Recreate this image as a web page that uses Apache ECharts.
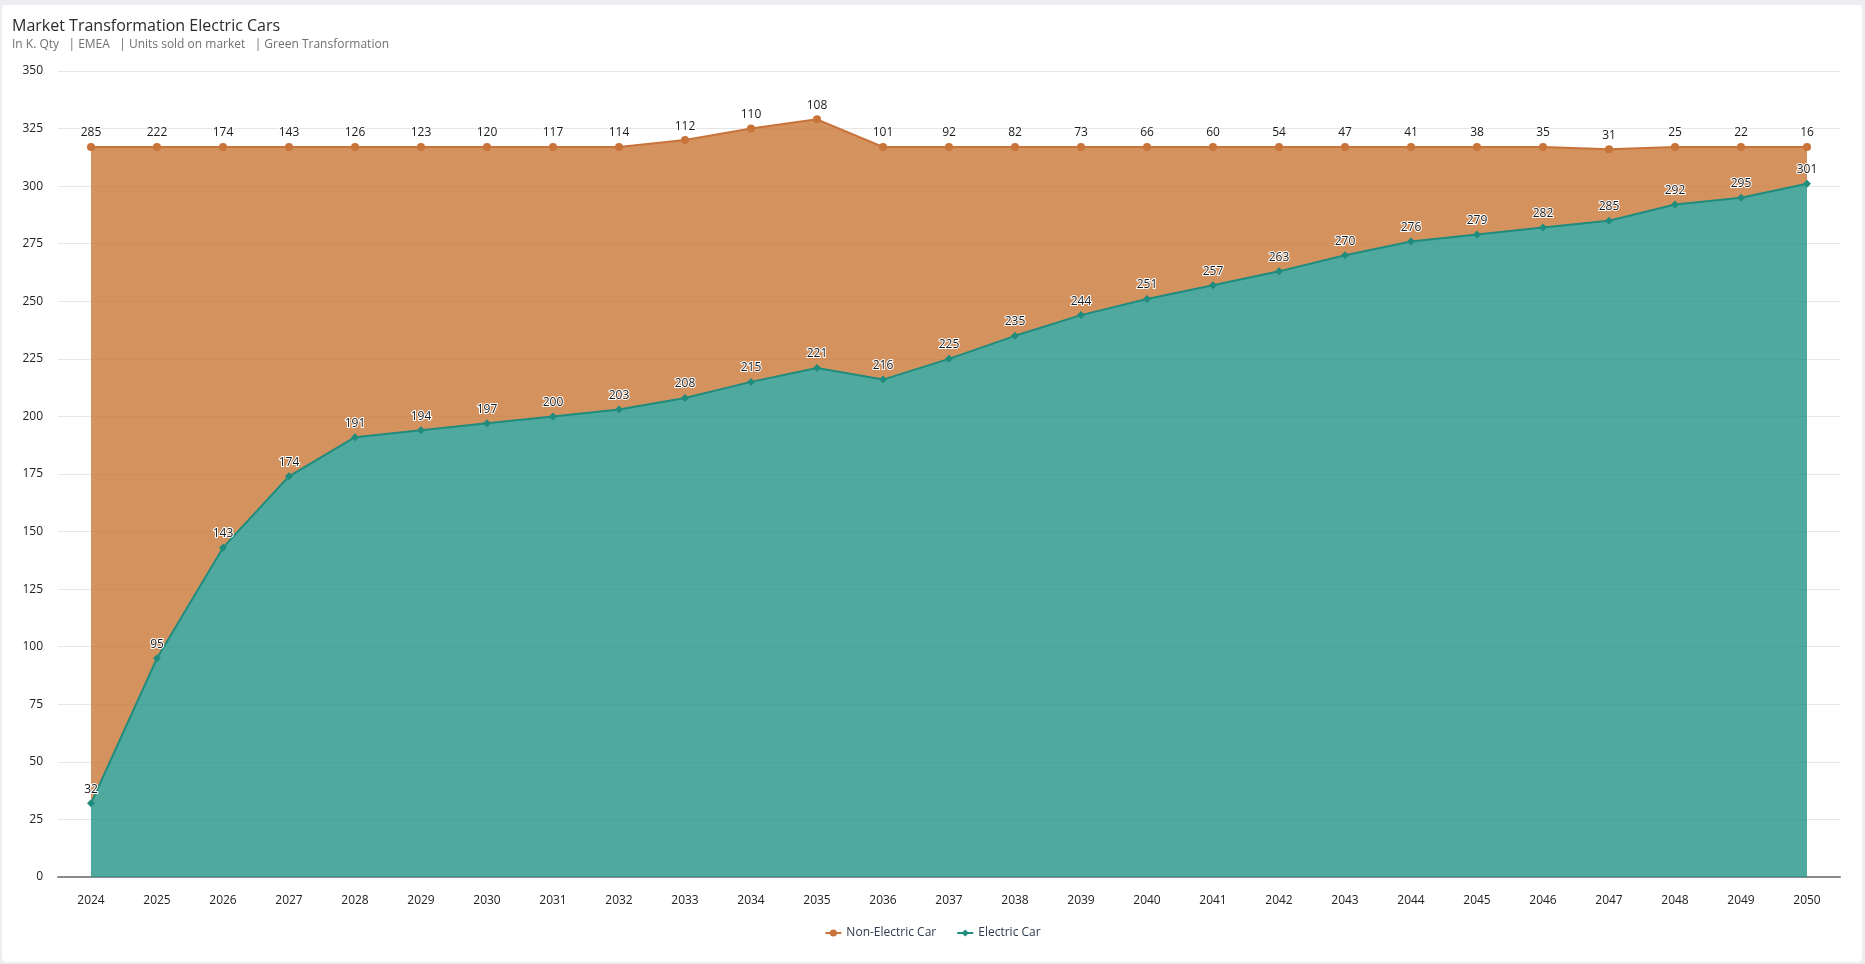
<!DOCTYPE html>
<html>
<head>
<meta charset="utf-8">
<title>Market Transformation Electric Cars</title>
<script src="https://cdn.jsdelivr.net/npm/echarts@6/dist/echarts.min.js"></script>
<style>
    html, body { margin: 0; padding: 0; width: 100%; height: 100%; background: #eceef1; overflow: hidden; }
    .card { position: absolute; left: 2px; top: 5px; right: 3px; bottom: 2px; background: #fff; border-radius: 4px; }
    #main { position: absolute; left: 0; top: 0; width: 1865px; height: 964px; }
</style>
</head>
<body>
<div class="card"></div>
<div id="main"></div>
<script>
var years = ['2024', '2025', '2026', '2027', '2028', '2029', '2030', '2031', '2032', '2033',
    '2034', '2035', '2036', '2037', '2038', '2039', '2040', '2041', '2042', '2043',
    '2044', '2045', '2046', '2047', '2048', '2049', '2050'];
var electric = [32, 95, 143, 174, 191, 194, 197, 200, 203, 208,
    215, 221, 216, 225, 235, 244, 251, 257, 263, 270,
    276, 279, 282, 285, 292, 295, 301];
var nonElectric = [285, 222, 174, 143, 126, 123, 120, 117, 114, 112,
    110, 108, 101, 92, 82, 73, 66, 60, 54, 47,
    41, 38, 35, 31, 25, 22, 16];

(function () {
    var font = '"Open Sans", "Noto Sans", sans-serif';
    var chart = echarts.init(document.getElementById('main'));

    // label style shared by both series
    var label = {
        show: true,
        position: 'top',
        distance: 4,
        color: '#1a1a1a',
        fontSize: 12,
        fontFamily: font,
        textBorderColor: '#fff',
        textBorderWidth: 2
    };

    chart.setOption({
        textStyle: { fontFamily: font },
        title: {
            text: 'Market Transformation Electric Cars',
            subtext: 'In K. Qty   | EMEA   | Units sold on market   | Green Transformation',
            left: 7,
            top: 13,
            itemGap: 5,
            textStyle: { fontSize: 16, fontWeight: 'normal', color: '#2b2b2b', fontFamily: font },
            subtextStyle: { fontSize: 12, color: '#707070', fontFamily: font }
        },
        legend: {
            data: ['Non-Electric Car', 'Electric Car'],
            top: 922,
            left: 'center',
            itemGap: 20,
            itemWidth: 16,
            itemHeight: 9,
            textStyle: { fontSize: 12, color: '#2d3a4a', fontFamily: font }
        },
        grid: { left: 58, right: 25, top: 71, bottom: 87, containLabel: false },
        xAxis: {
            type: 'category',
            data: years,
            axisLine: { lineStyle: { color: '#8a8a8a', width: 2 } },
            axisTick: { show: false },
            axisLabel: { color: '#222', fontSize: 12, margin: 18 }
        },
        yAxis: {
            type: 'value',
            min: 0,
            max: 350,
            interval: 25,
            axisLabel: { color: '#222', fontSize: 12, margin: 15 },
            splitLine: { lineStyle: { color: '#e6e6e6' } }
        },
        series: [{
            name: 'Electric Car',
            type: 'line',
            stack: 'total',
            data: electric,
            color: '#23938a',
            symbol: 'diamond',
            symbolSize: 8,
            lineStyle: { width: 2, color: '#1f8c7e' },
            itemStyle: { color: '#1f8c7e' },
            areaStyle: { color: '#239386', opacity: 0.8 },
            label: label,
            z: 3
        }, {
            name: 'Non-Electric Car',
            type: 'line',
            stack: 'total',
            data: nonElectric,
            color: '#c8733a',
            symbol: 'circle',
            symbolSize: 8,
            lineStyle: { width: 2, color: '#c8733a' },
            itemStyle: { color: '#c8733a' },
            areaStyle: { color: '#c97737', opacity: 0.8 },
            label: label,
            z: 2
        }]
    });
})();
</script>
</body>
</html>
